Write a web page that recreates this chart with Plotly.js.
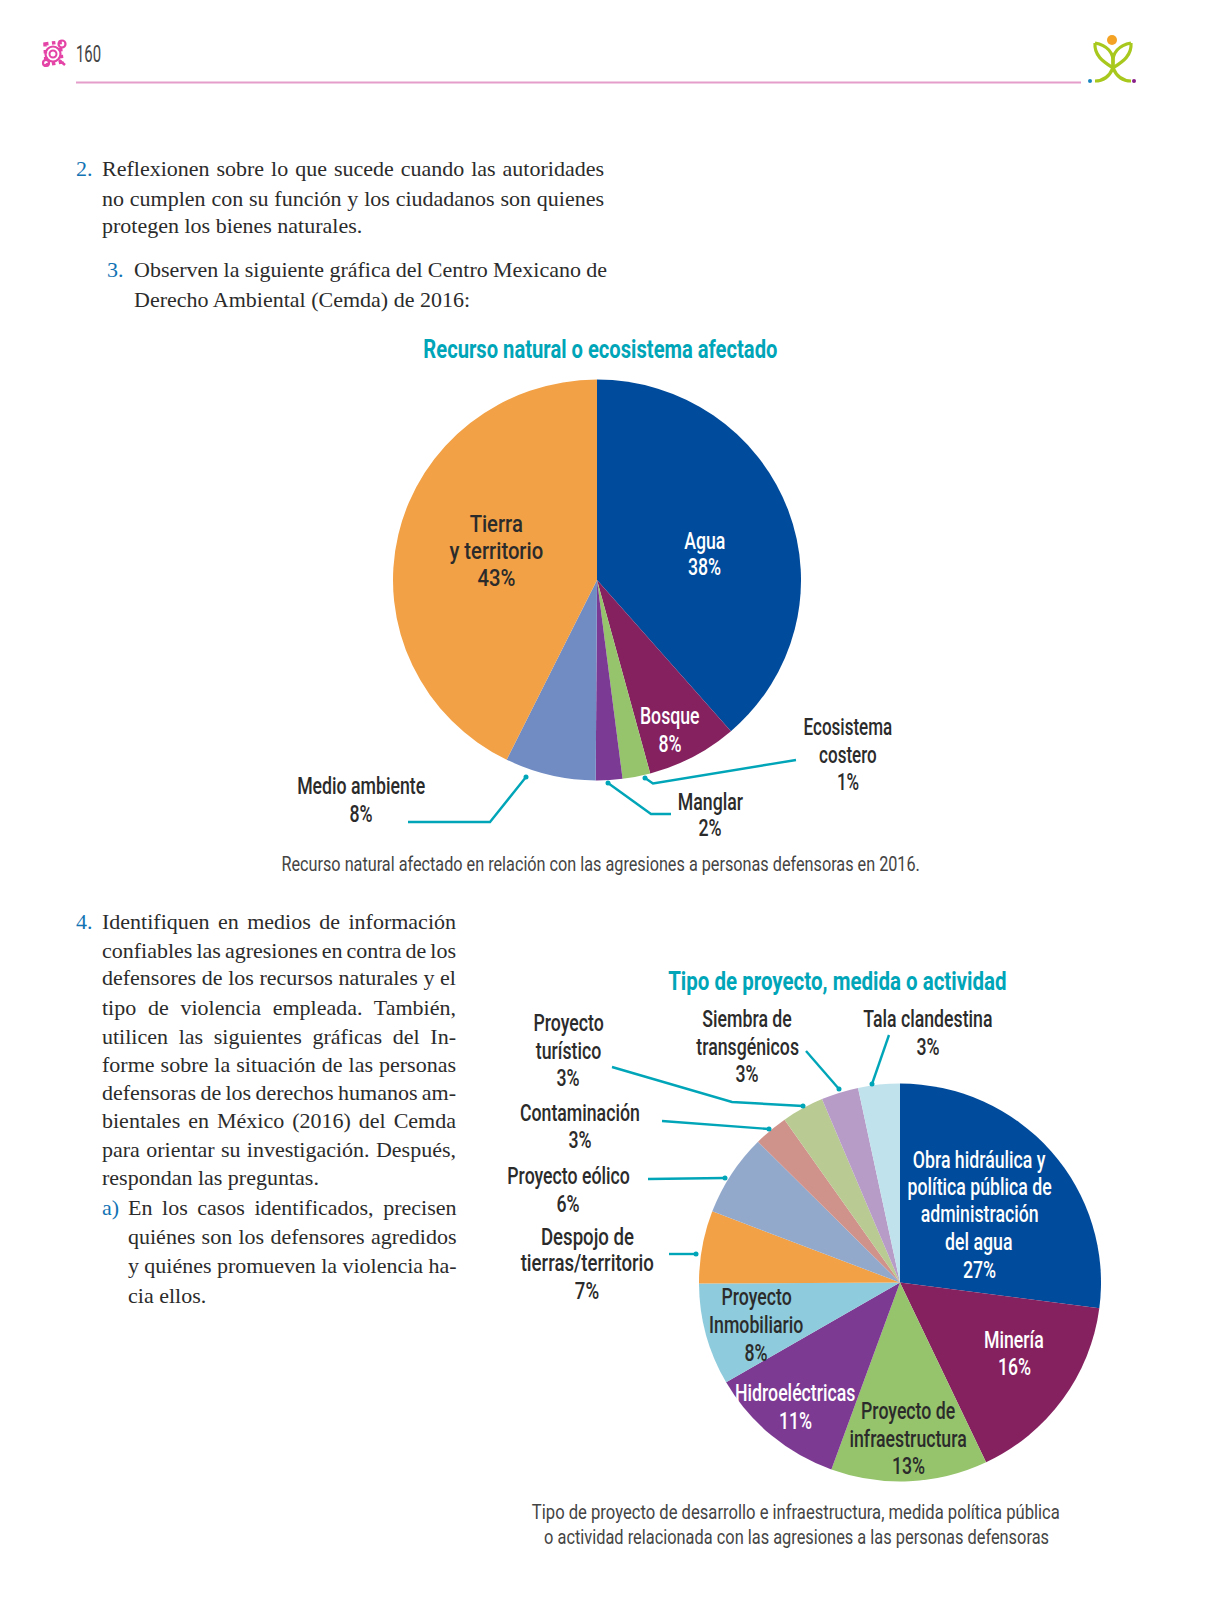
<!DOCTYPE html>
<html><head><meta charset="utf-8">
<script src="https://cdn.plot.ly/plotly-3.0.1.min.js"></script>
<style>html,body{margin:0;padding:0;background:#fff}#c{width:1214px;height:1600px}</style>
</head><body><div id="c"></div>
<script>
// ---- data ----
const resourceNames = ['Agua','Bosque','Ecosistema costero','Manglar','Medio ambiente','Tierra y territorio'];
const resourcePct   = [38,8,1,2,8,43];
const resourceAngleShare = [38.6,7.2,2.2,2.1,7.2,42.7];
const resourceColors = ['#004b9b','#85215f','#96c46c','#7b3a93','#708cc3','#f2a146'];

const projectNames = ['Obra hidráulica y política pública de administración del agua','Minería','Proyecto de infraestructura','Hidroeléctricas','Proyecto Inmobiliario','Despojo de tierras/territorio','Proyecto eólico','Contaminación','Proyecto turístico','Siembra de transgénicos','Tala clandestina'];
const projectPct    = [27,16,13,11,8,7,6,3,3,3,3];
const projectAngleShare = [27.1,15.9,12.6,11.1,8.3,5.9,6.7,2.75,3.4,3.0,3.35];
const projectColors = ['#004b9b','#85215f','#96c46c','#7c3a92','#8ecbdc','#f2a146','#93a9cc','#d0938c','#b9cb92','#b79cc8','#c0e2ec'];

const W=1214,H=1600;
const NARROW='Roboto,sans-serif', SERIF='"Liberation Serif",serif';
const TEAL='#00a5b8', INK='#2b2b2b', BLUE='#1273b4';
const ann=[], shapes=[], fit=[];
function T(x,y,text,o={}){
  const left=o.a==='left';
  ann.push({xref:'paper',yref:'paper',x:(left?x-2:x)/W,y:1-y/H,text:text,showarrow:false,align:left?'left':'center',
    xanchor:o.a||'center',yanchor:'middle',font:{family:o.f||NARROW,size:o.s||23,color:o.c||INK,weight:o.w||(o.f===SERIF?400:500)}});
  fit.push({sx:o.f===SERIF?null:(o.sx||0.77),to:o.to||null});
}
function lab(x,ys,lines,o){lines.forEach((l,i)=>T(x,ys[i],l,o));}
function leader(pts){
  shapes.push({type:'path',xref:'paper',yref:'paper',path:'M'+pts.map(p=>(p[0]/W)+','+(1-p[1]/H)).join('L'),line:{color:TEAL,width:2.4}});
  const e=pts[pts.length-1];
  shapes.push({type:'circle',xref:'paper',yref:'paper',x0:(e[0]-2.5)/W,x1:(e[0]+2.5)/W,y0:1-(e[1]+2.5)/H,y1:1-(e[1]-2.5)/H,fillcolor:TEAL,line:{width:0}});
}
function px(path,o){
  const s=path.replace(/(-?[\d.]+),(-?[\d.]+)/g,(m,a,b)=>(a/W)+','+(1-b/H));
  shapes.push(Object.assign({type:'path',xref:'paper',yref:'paper',path:s,line:{color:'#a8c81e',width:3.2}},o||{}));
}
function circ(x,y,r,fill,lc,lw){shapes.push({type:'circle',xref:'paper',yref:'paper',x0:(x-r)/W,x1:(x+r)/W,y0:1-(y+r)/H,y1:1-(y-r)/H,fillcolor:fill,line:{color:lc||fill,width:lw||0}});}
const NONE='rgba(0,0,0,0)', PINK='#e344a6';

// page header
T(76,54,'160',{a:'left',s:24,c:'#444',sx:0.62,w:400});
shapes.push({type:'line',xref:'paper',yref:'paper',x0:76/W,x1:1081/W,y0:1-82.5/H,y1:1-82.5/H,line:{color:'#e59dcb',width:2}});
px('M45,44 L60,42 L62,62 L46,65 Z',{line:{color:PINK,width:3.5,dash:'dot'}});
circ(53,54,7.5,NONE,PINK,2.2); circ(53,54,3.5,NONE,PINK,2);
circ(62,44,3.5,NONE,PINK,2.2); circ(46,63,3,NONE,PINK,2.2);
px('M59,60 L65,65',{line:{color:PINK,width:2.5}});
circ(1112,40,5,'#f4a224');
px('M1095,43 C1094,56 1104,62 1113,68 C1116,75 1122,81 1131,81');
px('M1095,43 C1106,45 1115,52 1113,66');
px('M1131,43 C1132,56 1122,62 1113,68 C1110,75 1104,81 1095,81');
px('M1131,43 C1120,45 1111,52 1113,66');
circ(1090,81,2,'#1a86c0'); circ(1134,81,2,'#8a1f8a');

// body text
const B={a:'left',f:SERIF,s:22}, BC={a:'left',f:SERIF,s:22,c:BLUE};
const body=(x,rows,right)=>rows.forEach(l=>T(x,l[1],l[0],Object.assign({},B,l[2]===0?{}:{to:right-x})));
T(75.5,169,'2.',BC);
body(102,[['Reflexionen sobre lo que sucede cuando las autoridades',169],['no cumplen con su función y los ciudadanos son quienes',198],['protegen los bienes naturales.',226,0]],604);
T(107,270,'3.',BC);
body(134,[['Observen la siguiente gráfica del Centro Mexicano de',270],['Derecho Ambiental (Cemda) de 2016:',299,0]],607);
T(75.5,921,'4.',BC);
body(102,[['Identifiquen en medios de información',921],['confiables las agresiones en contra de los',950],['defensores de los recursos naturales y el',978],['tipo de violencia empleada. También,',1007],['utilicen las siguientes gráficas del In-',1036],['forme sobre la situación de las personas',1064],['defensoras de los derechos humanos am-',1092],['bientales en México (2016) del Cemda',1120],['para orientar su investigación. Después,',1149],['respondan las preguntas.',1177,0]],456);
T(102,1207,'a)',BC);
body(127.5,[['En los casos identificados, precisen',1207],['quiénes son los defensores agredidos',1236],['y quiénes promueven la violencia ha-',1265],['cia ellos.',1295,0]],456);

// chart 1 text
T(600,349,'Recurso natural o ecosistema afectado',{s:25,c:TEAL,w:700,sx:0.807});
const pr=i=>resourcePct[i]+'%';
lab(496,[524,551,578],['Tierra','y territorio',pr(5)],{sx:0.88});
lab(705,[541,567],[resourceNames[0],pr(0)],{c:'#fff'});
lab(670,[716,744],[resourceNames[1],pr(1)],{c:'#fff'});
lab(848,[727,755,782],['Ecosistema','costero',pr(2)],{sx:0.74});
lab(710,[802,829],[resourceNames[3],pr(3)]);
lab(361,[786,814],[resourceNames[4],pr(4)]);
T(600,864,'Recurso natural afectado en relación con las agresiones a personas defensoras en 2016.',{s:19.5,c:'#444',sx:0.832,w:400});
leader([[408,822],[490,822],[526,777]]);
leader([[671,814],[651,814],[608,783]]);
leader([[796,760],[653,783.5],[645,778]]);

// chart 2 text
T(837,981,'Tipo de proyecto, medida o actividad',{s:25,c:TEAL,w:700,sx:0.82});
const pp=i=>projectPct[i]+'%';
lab(568,[1023,1051,1078],['Proyecto','turístico',pp(8)]);
lab(747,[1020,1047,1074],['Siembra de','transgénicos',pp(9)]);
lab(928,[1020,1047],[projectNames[10],pp(10)]);
lab(580,[1113,1140],[projectNames[7],pp(7)]);
lab(568,[1176,1204],[projectNames[6],pp(6)]);
lab(587,[1237,1263,1291],['Despojo de','tierras/territorio',pp(5)],{sx:0.81});
lab(979,[1160,1187,1214,1242,1270],['Obra hidráulica y','política pública de','administración','del agua',pp(0)],{c:'#fff'});
lab(1014,[1340,1367],[projectNames[1],pp(1)],{c:'#fff'});
lab(908,[1411,1439,1466],['Proyecto de','infraestructura',pp(2)]);
lab(795,[1393,1421],[projectNames[3],pp(3)],{c:'#fff'});
lab(756,[1297,1325,1353],['Proyecto','Inmobiliario',pp(4)]);
T(796,1512,'Tipo de proyecto de desarrollo e infraestructura, medida política pública',{s:19.5,c:'#444',sx:0.852,w:400});
T(796,1537,'o actividad relacionada con las agresiones a las personas defensoras',{s:19.5,c:'#444',sx:0.84,w:400});
leader([[612,1067],[732,1102],[803,1106]]);
leader([[662,1121],[769,1129]]);
leader([[648,1179],[725,1178]]);
leader([[669,1254],[696,1254]]);
leader([[806,1051],[839,1089]]);
leader([[889,1035],[872,1084]]);

function pie(names,vals,cols,cx,cy,r){return {type:'pie',labels:names,values:vals,sort:false,direction:'clockwise',rotation:0,
  marker:{colors:cols,line:{width:0}},textinfo:'none',hoverinfo:'label',showlegend:false,
  domain:{x:[(cx-r)/W,(cx+r)/W],y:[1-(cy+r)/H,1-(cy-r)/H]}};}
const pies=[{cx:597,cy:580,k:0.9825},{cx:900,cy:1282.5,k:0.99}];
Plotly.newPlot('c',[
  pie(resourceNames,resourceAngleShare,resourceColors,pies[0].cx,pies[0].cy,204),
  pie(projectNames,projectAngleShare,projectColors,pies[1].cx,pies[1].cy,201)
],{width:W,height:H,margin:{l:0,r:0,t:0,b:0},paper_bgcolor:'#fff',showlegend:false,annotations:ann,shapes:shapes},{displayModeBar:false,staticPlot:true}).then(()=>{
  // the printed pies are very slightly squashed vertically
  document.querySelectorAll('.pielayer .trace').forEach((g,i)=>{
    const p=pies[i], base=g.getAttribute('transform')||'';
    g.setAttribute('transform',`translate(${p.cx},${p.cy}) scale(1,${p.k}) translate(${-p.cx},${-p.cy}) ${base}`);
  });
  // condensed label type and justified body lines
  document.querySelectorAll('.annotation').forEach(g=>{
    const i=+g.getAttribute('data-index'), t=g.querySelector('text.annotation-text'), f=fit[i];
    if(!t||!f) return;
    const w=t.getComputedTextLength();
    if(f.to){const n=(t.textContent.match(/ /g)||[]).length; if(n) t.style.wordSpacing=((f.to-w)/n)+'px';}
    else if(f.sx){t.setAttribute('textLength',w*f.sx);t.setAttribute('lengthAdjust','spacingAndGlyphs');}
  });
});
</script></body></html>
